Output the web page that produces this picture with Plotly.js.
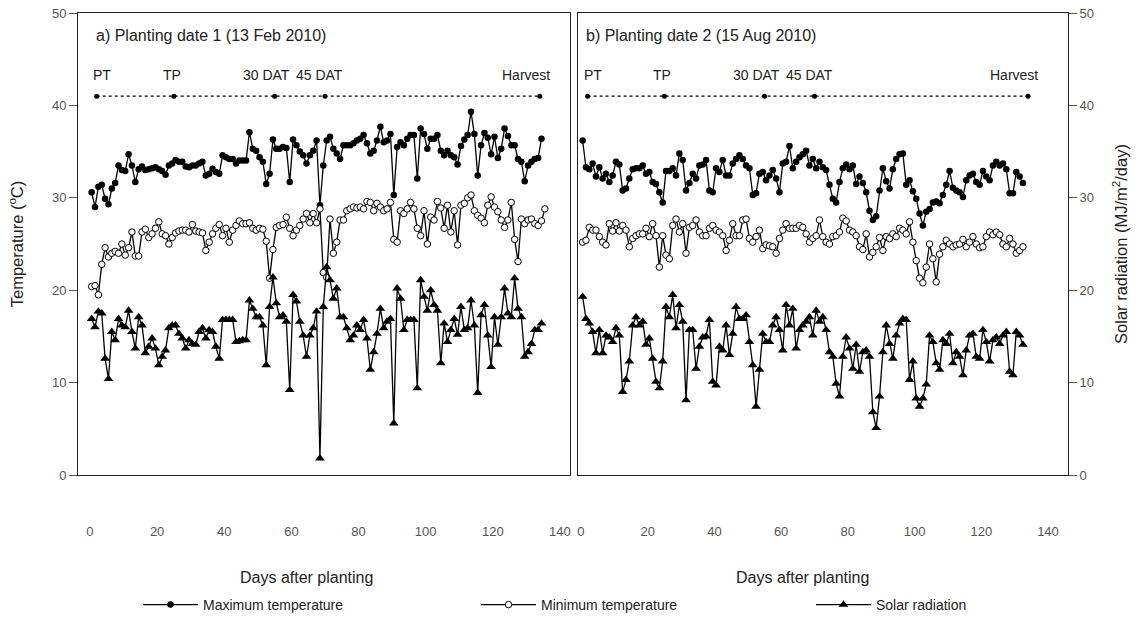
<!DOCTYPE html>
<html>
<head>
<meta charset="utf-8">
<script src="https://cdn.plot.ly/plotly-3.0.1.min.js"></script>
<style>html,body{margin:0;padding:0;background:#fff;}#chart{width:1145px;height:619px;}</style>
</head>
<body>
<div id="chart"></div>
<script>
// ---------- data ----------
const stageDays = [2, 25, 55, 70, 134];
const stageLabels = ['PT', 'TP', '30 DAT', '45 DAT', 'Harvest'];
const xTickVals = [0, 20, 40, 60, 80, 100, 120, 140];

// Panel a: Planting date 1 (13 Feb 2010)
const maxTempA = [30.6, 29.0, 31.2, 31.4, 29.9, 29.3, 31.0, 31.6, 33.5, 33.0, 32.9, 34.7, 33.5, 31.7, 33.1, 33.4, 33.0, 33.1, 33.2, 33.3, 33.1, 32.9, 32.5, 33.5, 33.7, 34.1, 33.9, 33.9, 33.4, 33.3, 33.5, 33.5, 33.7, 33.9, 32.4, 32.6,
  33.15, 32.8, 32.6, 34.6, 34.4, 34.2, 34.2, 33.7, 34.05, 34.05, 34.05, 37.1, 35.3, 35.1, 34.4, 33.9, 31.5, 32.6, 36.3, 35.3, 35.3, 35.5, 35.4, 31.7, 36.3, 35.7, 35.0, 34.6, 33.7, 34.6, 35.1, 36.2, 29.2, 33.5, 36.2, 36.6,
  35.3, 34.8, 34.2, 35.7, 35.7, 35.7, 35.9, 36.2, 36.4, 36.8, 35.9, 34.8, 35.1, 36.2, 37.7, 36.0, 36.2, 36.9, 30.3, 35.5, 36.0, 35.7, 36.4, 36.8, 36.8, 32.1, 37.5, 36.9, 35.3, 36.4, 36.4, 36.8, 35.1, 34.6, 35.1, 34.6,
  34.4, 33.6, 35.6, 36.3, 36.8, 39.3, 36.9, 32.4, 35.7, 37.0, 36.5, 34.7, 36.6, 34.3, 35.3, 37.5, 36.7, 35.7, 35.7, 34.2, 33.9, 31.8, 33.5, 33.9, 34.2, 34.3, 36.4];
const minTempA = [20.4, 20.5, 19.5, 22.8, 24.6, 23.6, 24.0, 24.2, 24.0, 25.0, 23.8, 24.6, 26.3, 23.7, 23.7, 26.3, 26.6, 25.7, 26.1, 26.7, 27.4, 26.1, 25.9, 25.0, 25.7, 26.2, 26.4, 26.5, 26.5, 26.3, 27.1, 26.4, 26.3, 26.2, 24.3, 25.2,
  26.1, 26.7, 27.1, 25.9, 26.7, 25.2, 26.5, 27.0, 27.5, 27.2, 27.2, 27.3, 26.7, 26.5, 26.7, 26.6, 25.3, 21.3, 24.4, 26.8, 27.0, 27.1, 27.9, 26.7, 25.9, 26.5, 27.0, 27.7, 28.3, 27.3, 28.3, 27.3, 28.8, 21.9, 21.4, 27.7,
  24.0, 25.2, 27.6, 27.6, 28.6, 28.8, 29.0, 28.9, 29.0, 28.8, 29.6, 29.5, 28.6, 29.4, 29.0, 28.6, 28.8, 29.5, 25.5, 25.2, 28.6, 28.3, 28.8, 29.5, 28.8, 26.7, 25.9, 28.6, 25.0, 27.9, 27.6, 29.6, 28.9, 26.7, 29.2, 26.3,
  28.6, 24.9, 29.2, 29.4, 30.0, 30.3, 28.6, 28.1, 27.8, 27.3, 29.2, 30.1, 29.0, 28.5, 27.6, 26.8, 27.6, 29.5, 25.5, 23.1, 27.7, 27.2, 27.6, 27.7, 27.2, 27.0, 27.5, 28.8];
const solarA = [16.9, 16.0, 17.7, 17.5, 12.6, 10.4, 15.5, 14.6, 16.9, 16.2, 16.0, 17.8, 15.5, 13.7, 17.1, 16.2, 13.2, 13.9, 14.8, 13.7, 11.9, 12.8, 13.5, 15.9, 16.2, 16.2, 15.3, 14.8, 13.7, 14.6, 14.2, 14.1, 15.5, 15.9, 14.8, 15.7,
  15.5, 13.9, 12.6, 16.8, 16.8, 16.8, 16.8, 14.4, 14.5, 14.6, 14.6, 18.9, 18.0, 17.1, 17.1, 16.2, 11.9, 18.2, 21.4, 18.6, 17.1, 17.3, 16.6, 9.2, 19.5, 18.8, 16.6, 15.1, 12.8, 15.1, 15.9, 17.7, 1.8, 18.2,
  22.5, 21.1, 19.1, 20.2, 17.1, 17.1, 15.9, 14.6, 15.1, 16.2, 15.7, 16.8, 14.8, 11.4, 13.3, 15.3, 18.0, 15.9, 16.6, 16.9, 5.6, 20.2, 19.1, 15.7, 16.8, 16.8, 16.8, 9.4, 21.1, 19.3, 17.8, 20.0, 18.4, 17.8, 12.1, 16.4, 14.4, 15.7,
  16.9, 15.2, 18.2, 15.7, 15.9, 18.9, 16.2, 8.9, 17.3, 18.4, 15.1, 11.7, 17.1, 14.1, 17.1, 20.2, 17.5, 17.1, 21.3, 18.0, 17.1, 12.8, 13.3, 14.2, 15.7, 15.7, 16.4];

// Panel b: Planting date 2 (15 Aug 2010)
const maxTempB = [36.2, 33.3, 33.1, 33.7, 32.3, 33.3, 32.1, 32.6, 31.7, 32.4, 33.9, 33.6, 30.8, 31.0, 32.1, 33.1, 33.2, 33.2, 33.5, 32.6, 32.8, 31.7, 31.5, 30.6, 29.5, 32.9, 32.9, 33.2, 32.4, 34.8, 34.1, 30.8, 31.6, 32.6, 32.1, 33.5, 33.6,
  34.1, 30.8, 30.6, 33.2, 32.8, 34.1, 32.4, 32.4, 33.7, 34.2, 34.6, 34.2, 33.5, 33.2, 30.3, 30.5, 32.6, 32.8, 31.9, 32.4, 33.0, 32.1, 30.6, 33.7, 33.9, 35.6, 33.2, 33.9, 34.4, 34.7, 35.1, 33.5, 34.2, 33.2, 33.9, 33.3,
  33.0, 31.4, 29.9, 29.5, 31.7, 33.2, 33.6, 33.1, 33.5, 31.5, 32.3, 31.6, 30.6, 28.6, 27.6, 28.0, 30.8, 33.2, 31.8, 31.0, 33.1, 34.2, 34.7, 34.8, 31.4, 31.9, 30.7, 29.9, 28.3, 27.0, 28.5, 28.8, 29.5, 29.6, 29.4, 30.3,
  31.4, 32.9, 31.1, 30.8, 30.6, 30.1, 31.9, 32.4, 32.6, 31.7, 31.4, 32.9, 32.3, 31.9, 33.5, 33.9, 33.5, 33.7, 33.1, 30.5, 30.5, 32.8, 32.3, 31.6];
const minTempB = [25.2, 25.4, 26.8, 26.5, 26.5, 25.8, 25.2, 24.9, 27.2, 26.4, 27.3, 26.4, 27.0, 26.5, 24.7, 25.6, 25.9, 26.1, 26.1, 26.7, 25.8, 27.2, 25.9, 22.5, 25.9, 23.8, 23.4, 27.0, 27.7, 26.3, 27.2, 24.0, 26.8, 27.0, 27.6, 26.3,
  25.9, 25.9, 26.7, 27.0, 26.5, 26.3, 25.9, 24.3, 25.4, 27.2, 25.9, 25.9, 27.6, 27.7, 25.6, 25.2, 25.8, 26.5, 24.5, 24.9, 24.8, 24.7, 24.0, 25.6, 26.5, 27.2, 26.7, 26.7, 26.7, 27.0, 26.8, 26.1, 25.2, 25.6, 25.9, 27.6,
  25.8, 25.2, 25.0, 25.8, 25.9, 26.3, 27.8, 27.5, 26.5, 26.3, 25.9, 24.7, 24.4, 26.1, 23.6, 24.1, 24.7, 25.7, 24.3, 25.8, 25.6, 26.1, 25.8, 26.7, 26.5, 26.1, 27.4, 25.2, 23.2, 21.3, 20.8, 22.5, 25.0, 23.4, 20.9, 23.9,
  24.7, 25.4, 25.0, 24.7, 24.9, 25.0, 25.5, 24.7, 25.2, 25.8, 25.0, 24.6, 24.7, 25.8, 26.3, 26.0, 26.3, 26.0, 25.0, 24.7, 25.6, 25.0, 24.0, 24.3, 24.7];
const solarB = [19.3, 16.9, 16.4, 15.5, 13.2, 15.7, 13.2, 15.1, 14.9, 14.4, 15.9, 15.1, 9.0, 10.3, 12.3, 16.2, 17.1, 16.2, 16.6, 14.1, 14.8, 12.6, 10.1, 9.4, 12.3, 18.2, 17.1, 19.5, 15.9, 18.4, 16.6, 8.1, 15.7, 15.7, 11.5, 13.9, 14.9,
  15.0, 16.8, 10.1, 9.7, 13.9, 13.5, 16.2, 13.0, 15.3, 18.2, 16.9, 16.9, 17.3, 14.4, 11.9, 7.4, 11.4, 15.3, 14.4, 14.4, 16.2, 17.1, 15.7, 13.5, 18.4, 16.2, 18.0, 13.7, 15.7, 16.2, 16.6, 17.1, 15.1, 17.8, 16.6, 17.1, 15.7,
  13.3, 12.8, 9.9, 8.5, 12.8, 14.9, 13.7, 11.5, 14.1, 11.2, 13.3, 13.5, 12.8, 6.8, 5.1, 8.5, 13.3, 16.2, 14.2, 12.6, 15.1, 16.4, 16.9, 16.8, 10.3, 12.3, 8.3, 7.4, 8.3, 9.8, 15.1, 14.4, 12.1, 11.4, 14.6,
  14.2, 15.3, 12.1, 13.3, 12.8, 10.8, 13.5, 15.1, 15.3, 12.8, 12.6, 15.7, 14.4, 12.3, 14.6, 14.9, 14.2, 15.1, 15.5, 11.2, 10.8, 15.5, 15.1, 14.1];

const seriesNames = ['Maximum temperature', 'Minimum temperature', 'Solar radiation'];
const panelTitles = ['a) Planting date 1 (13 Feb 2010)', 'b) Planting date 2 (15 Aug 2010)'];

// ---------- build ----------
const dayAxis = arr => arr.map((_, i) => i + 0.5);
const FONT = 'Liberation Sans, Arial, sans-serif';
const markers = [
  {symbol: 'circle', size: 6.5, color: '#000'},
  {symbol: 'circle', size: 6.5, color: '#fff', line: {width: 1, color: '#000'}},
  {symbol: 'triangle-up', size: 8.5, color: '#000'}
];
const legendIds = ['legend', 'legend2', 'legend3'];
const panels = [
  {xa: 'x', ya: 'y', series: [maxTempA, minTempA, solarA], legend: true},
  {xa: 'x2', ya: 'y2', series: [maxTempB, minTempB, solarB], legend: false}
];
const traces = [];
panels.forEach(p => {
  p.series.forEach((s, k) => {
    traces.push({
      type: 'scatter', mode: 'lines+markers', x: dayAxis(s), y: s,
      xaxis: p.xa, yaxis: p.ya, name: seriesNames[k], showlegend: p.legend, legend: legendIds[k],
      line: {color: '#000', width: 1.3}, marker: markers[k], cliponaxis: false
    });
  });
  traces.push({
    type: 'scatter', mode: 'lines+markers', x: stageDays, y: stageDays.map(() => 41),
    xaxis: p.xa, yaxis: p.ya, showlegend: false, hoverinfo: 'skip',
    line: {color: '#000', width: 1.2, dash: 'dot'}, marker: {size: 5, color: '#000'}
  });
});

const labelShift = [5, -2, -8, -5, -14];
const annotations = [];
panels.forEach((p, pi) => {
  annotations.push({xref: p.xa, yref: p.ya, x: pi === 0 ? 1.2 : 1.0, y: 47.6, text: panelTitles[pi], showarrow: false,
    xanchor: 'left', yanchor: 'middle', font: {family: FONT, size: 16, color: '#222'}});
  stageDays.forEach((d, i) => {
    annotations.push({xref: p.xa, yref: p.ya, x: d, y: 43.3, text: stageLabels[i], showarrow: false,
      xanchor: 'center', yanchor: 'middle', xshift: labelShift[i], font: {family: FONT, size: 14, color: '#222'}});
  });
});
// x-axis titles
[0.231, 0.732].forEach(px => {
  annotations.push({xref: 'paper', yref: 'paper', x: px, y: -0.2227, text: 'Days after planting', showarrow: false,
    xanchor: 'center', yanchor: 'middle', font: {family: FONT, size: 16, color: '#222'}});
});

const xBase = {tickvals: xTickVals, showline: true, mirror: true,
  linecolor: '#222', linewidth: 1, ticks: '', showgrid: false, zeroline: false, ticklabelstandoff: 44,
  tickfont: {family: FONT, size: 13, color: '#555'}};
const yBase = {range: [0, 50], dtick: 10, showline: true, mirror: true, linecolor: '#222', linewidth: 1,
  ticks: 'outside', ticklen: 8, tickcolor: '#555', showgrid: false, zeroline: false,
  tickfont: {family: FONT, size: 13, color: '#555'}};
const legBase = {orientation: 'h', yref: 'container', xref: 'container', yanchor: 'middle', xanchor: 'left',
  y: 0.0226, itemwidth: 55, bgcolor: 'rgba(0,0,0,0)', font: {family: FONT, size: 14, color: '#222'}};

const layout = {
  width: 1145, height: 619, paper_bgcolor: '#fff', plot_bgcolor: '#fff',
  margin: {l: 78, r: 77, t: 13, b: 144, autoexpand: false},
  showlegend: true,
  legend: Object.assign({}, legBase, {x: 138 / 1145}),
  legend2: Object.assign({}, legBase, {x: 476 / 1145}),
  legend3: Object.assign({}, legBase, {x: 811 / 1145}),
  xaxis: Object.assign({}, xBase, {domain: [0, 0.497], anchor: 'y', range: [-3.57, 143.0]}),
  xaxis2: Object.assign({}, xBase, {domain: [0.505, 1], anchor: 'y2', range: [-0.9, 146.0]}),
  yaxis: Object.assign({}, yBase, {domain: [0, 1], anchor: 'x', side: 'left',
    title: {text: 'Temperature (<sup>o</sup>C)', font: {family: FONT, size: 16.5, color: '#222'}, standoff: 24}}),
  yaxis2: Object.assign({}, yBase, {domain: [0, 1], anchor: 'x2', side: 'right',
    title: {text: 'Solar radiation (MJ/m<sup>2</sup>/day)', font: {family: FONT, size: 16.5, color: '#222'}, standoff: 22}}),
  annotations: annotations
};

Plotly.newPlot('chart', traces, layout, {staticPlot: true, displayModeBar: false});
</script>
</body>
</html>
